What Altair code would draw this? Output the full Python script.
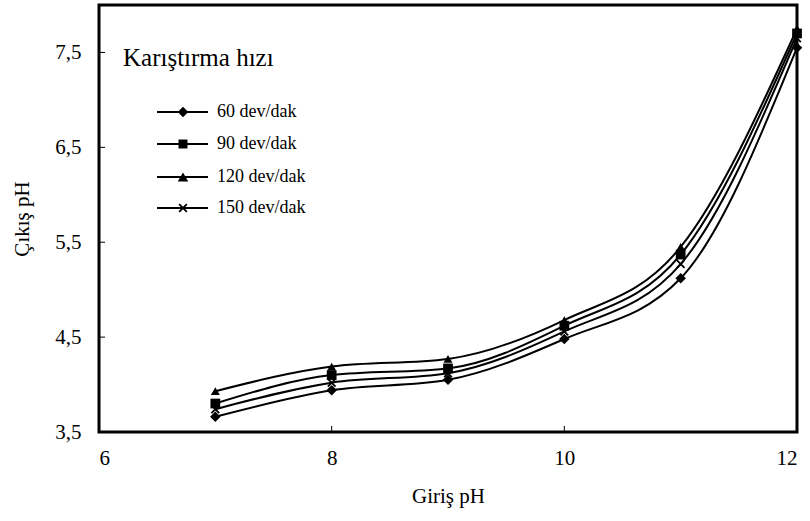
import altair as alt
import pandas as pd

# ---- data ----
giris_ph = [7, 8, 9, 10, 11, 12]
s60 = [3.66, 3.94, 4.05, 4.48, 5.12, 7.55]
s90 = [3.80, 4.10, 4.17, 4.62, 5.37, 7.70]
s120 = [3.93, 4.19, 4.27, 4.68, 5.45, 7.75]
s150 = [3.74, 4.02, 4.12, 4.56, 5.27, 7.65]
series_names = ["60 dev/dak", "90 dev/dak", "120 dev/dak", "150 dev/dak"]
x_ticks = [6, 8, 10, 12]
y_ticks = [3.5, 4.5, 5.5, 6.5, 7.5]
legend_title = "Karıştırma hızı"

rows = []
for name, vals in zip(series_names, [s60, s90, s120, s150]):
    for x, y in zip(giris_ph, vals):
        rows.append({"seri": name, "giris": x, "cikis": y})
df = pd.DataFrame(rows)

W, H = 698, 427
FONT = "Liberation Serif"

xs = alt.Scale(domain=[6, 12], nice=False, zero=False)
ys = alt.Scale(domain=[3.5, 8.0], nice=False, zero=False)

X = alt.X("giris:Q", scale=xs, axis=alt.Axis(
    values=x_ticks, format="d", title="Giriş pH", ticks=False, domain=False, grid=False,
    labelFont=FONT, labelFontSize=21, labelColor="black", labelPadding=15,
    titleFont=FONT, titleFontSize=21, titleFontWeight="normal", titleColor="black",
    titlePadding=17))
Y = alt.Y("cikis:Q", scale=ys, axis=alt.Axis(
    values=y_ticks, title="Çıkış pH", ticks=False, domain=False, grid=False,
    labelExpr="replace(format(datum.value, '.1f'), '.', ',')",
    labelFont=FONT, labelFontSize=21, labelColor="black", labelPadding=18,
    titleFont=FONT, titleFontSize=21, titleFontWeight="normal", titleColor="black",
    titlePadding=22))

shape_map = {
    "60 dev/dak": "diamond",
    "90 dev/dak": "square",
    "120 dev/dak": "triangle-up",
}
size_map = {"60 dev/dak": 110, "90 dev/dak": 80, "120 dev/dak": 110}
cross_path = "M-1,-1L1,1M-1,1L1,-1"

base = alt.Chart(df)

lines = base.mark_line(interpolate="monotone", color="black", strokeWidth=2).encode(
    x=X, y=Y, detail="seri:N")

filled_df = df[df["seri"] != "150 dev/dak"]
pts = alt.Chart(filled_df).mark_point(filled=True, color="black", opacity=1).encode(
    x=alt.X("giris:Q", scale=xs),
    y=alt.Y("cikis:Q", scale=ys),
    shape=alt.Shape("seri:N", scale=alt.Scale(domain=list(shape_map.keys()),
                                              range=list(shape_map.values())), legend=None),
    size=alt.Size("seri:N", scale=alt.Scale(domain=list(size_map.keys()),
                                            range=list(size_map.values())), legend=None),
)
cross_df = df[df["seri"] == "150 dev/dak"]
crosses = alt.Chart(cross_df).mark_point(shape=cross_path, filled=False, color="black",
                                         strokeWidth=1.8, size=60, opacity=1).encode(
    x=alt.X("giris:Q", scale=xs),
    y=alt.Y("cikis:Q", scale=ys),
)

# inside tick marks
ytick_df = pd.DataFrame({"v": y_ticks})
xtick_df = pd.DataFrame({"v": x_ticks})
yt = alt.Chart(ytick_df).mark_rule(color="black", strokeWidth=1).encode(
    y=alt.Y("v:Q", scale=ys), x=alt.value(0), x2=alt.value(6))
xt = alt.Chart(xtick_df).mark_rule(color="black", strokeWidth=1).encode(
    x=alt.X("v:Q", scale=xs), y=alt.value(H), y2=alt.value(H - 6))

# legend drawn inside the plot
leg_layers = []
title_df = pd.DataFrame({"t": [legend_title]})
leg_layers.append(alt.Chart(title_df).mark_text(
    align="left", baseline="middle", font=FONT, fontSize=25, color="black").encode(
    text="t:N", x=alt.value(24), y=alt.value(53)))
row_y = [107, 139, 172, 203]
legend_shapes = ["diamond", "square", "triangle-up", cross_path]
legend_sizes = [110, 80, 110, 60]
for name, ry, shp, sz in zip(series_names, row_y, legend_shapes, legend_sizes):
    ldf = pd.DataFrame({"lab": [name]})
    leg_layers.append(alt.Chart(ldf).mark_rule(color="black", strokeWidth=2).encode(
        x=alt.value(58), x2=alt.value(109), y=alt.value(ry)))
    if shp == cross_path:
        leg_layers.append(alt.Chart(ldf).mark_point(
            shape=shp, filled=False, color="black", strokeWidth=1.8, size=sz, opacity=1).encode(
            x=alt.value(84), y=alt.value(ry)))
    else:
        leg_layers.append(alt.Chart(ldf).mark_point(
            shape=shp, filled=True, color="black", size=sz, opacity=1).encode(
            x=alt.value(84), y=alt.value(ry)))
    leg_layers.append(alt.Chart(ldf).mark_text(
        align="left", baseline="middle", font=FONT, fontSize=18, color="black").encode(
        text="lab:N", x=alt.value(118), y=alt.value(ry)))

chart = alt.layer(lines, pts, crosses, yt, xt, *leg_layers).properties(
    width=W, height=H,
    autosize=alt.AutoSizeParams(type="none"),
    padding={"left": 99, "top": 5, "right": 13, "bottom": 89},
    background="white",
).configure_view(stroke="black", strokeWidth=3)

chart.save("out.html", embed_options={"renderer": "svg", "actions": False})
